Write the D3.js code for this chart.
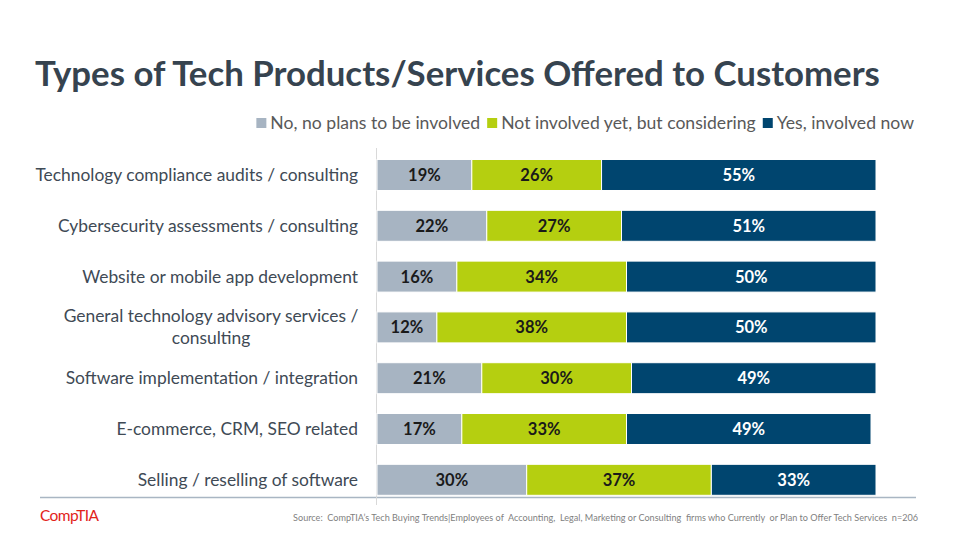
<!DOCTYPE html>
<html>
<head>
<meta charset="utf-8">
<script src="https://cdn.jsdelivr.net/npm/d3@7"></script>
<style>
  body { margin: 0; background: #fff; }
  svg { font-family: Lato, "Open Sans", sans-serif; }
</style>
</head>
<body>
<div id="chart"></div>
<script>
const categories = [
  "Technology compliance audits / consulting",
  "Cybersecurity assessments / consulting",
  "Website or mobile app development",
  "General technology advisory services / consulting",
  "Software implementation / integration",
  "E-commerce, CRM, SEO related",
  "Selling / reselling of software"
];
const seriesNames = ["No, no plans to be involved", "Not involved yet, but considering", "Yes, involved now"];
const noPlans = [19, 22, 16, 12, 21, 17, 30];
const considering = [26, 27, 34, 38, 30, 33, 37];
const involved = [55, 51, 50, 50, 49, 49, 33];
const colors = ["#a7b4c2", "#b5cf10", "#00456f"];
const labelColors = ["#1a1a1a", "#1a1a1a", "#ffffff"];

const width = 960, height = 540;
const svg = d3.select("#chart").append("svg")
  .attr("width", width).attr("height", height);

// title
svg.append("text")
  .attr("x", 35).attr("y", 86)
  .attr("font-size", 34.8).attr("font-weight", "bold")
  .attr("fill", "#36434f")
  .text("Types of Tech Products/Services Offered to Customers");

const rows = categories.map((c, i) => ({
  cat: c, values: [noPlans[i], considering[i], involved[i]]
}));
const stacked = d3.stack().keys([0, 1, 2]).value((d, k) => d.values[k])(rows);

const x = d3.scaleLinear().domain([0, 100]).range([377, 876]);
const y = d3.scaleBand().domain(categories).range([149.6, 505.2])
  .paddingInner(0.39).paddingOuter(0.195);

// bottom rule and axis line
svg.append("line").attr("x1", 40).attr("x2", 916).attr("y1", 497.5).attr("y2", 497.5)
  .attr("stroke", "#a9b6c3").attr("stroke-width", 1.5);
svg.append("line").attr("x1", 376.5).attr("x2", 376.5).attr("y1", 148).attr("y2", 505)
  .attr("stroke", "#d9d9d9").attr("stroke-width", 1);

// bars
const layers = svg.append("g").selectAll("g").data(stacked).join("g")
  .attr("fill", (d, i) => colors[i]);
layers.selectAll("rect").data(d => d).join("rect")
  .attr("x", d => x(d[0]))
  .attr("y", d => y(d.data.cat))
  .attr("width", d => x(d[1]) - x(d[0]))
  .attr("height", y.bandwidth())
  .attr("stroke", "#fff").attr("stroke-width", 1);

// value labels
stacked.forEach((layer, i) => {
  svg.append("g").selectAll("text").data(layer).join("text")
    .attr("x", d => (x(d[0]) + x(d[1])) / 2)
    .attr("y", d => y(d.data.cat) + y.bandwidth() / 2)
    .attr("dy", "0.36em")
    .attr("text-anchor", "middle")
    .attr("font-size", 16.5).attr("font-weight", "bold")
    .attr("fill", labelColors[i])
    .text(d => (d[1] - d[0]) + "%");
});

// category labels
const wrapAt = 330;
categories.forEach(c => {
  const cy = y(c) + y.bandwidth() / 2;
  const t = svg.append("text")
    .attr("font-size", 17.4).attr("fill", "#404a55");
  t.text(c);
  if (t.node().getComputedTextLength() > wrapAt) {
    const words = c.split(" ");
    const last = words.pop();
    t.text(null).attr("text-anchor", "middle");
    t.append("tspan").attr("x", 211).attr("y", cy - 5).text(words.join(" "));
    t.append("tspan").attr("x", 211).attr("y", cy + 17).text(last);
  } else {
    t.attr("x", 358).attr("y", cy).attr("dy", "0.35em").attr("text-anchor", "end");
  }
});

// legend, right aligned
const legend = svg.append("g");
let lx = 914;
const items = seriesNames.map((n, i) => ({ n, i })).reverse();
items.forEach(({ n, i }) => {
  const t = legend.append("text").attr("y", 123).attr("dy", "0.35em")
    .attr("font-size", 17.6).attr("fill", "#595959").attr("text-anchor", "end")
    .attr("x", lx).text(n);
  const w = t.node().getComputedTextLength();
  legend.append("rect").attr("x", lx - w - 14).attr("y", 118)
    .attr("width", 10).attr("height", 10).attr("fill", colors[i]);
  lx = lx - w - 21;
});

// footer
svg.append("text").attr("x", 40).attr("y", 521)
  .attr("font-size", 15.5).attr("fill", "#e2231a").attr("letter-spacing", -0.6)
  .text("CompTIA");
svg.append("text").attr("x", 918).attr("y", 521).attr("text-anchor", "end")
  .attr("font-size", 9.1).attr("fill", "#7f7f7f")
  .style("white-space", "pre")
  .text("Source:  CompTIA’s Tech Buying Trends|Employees of  Accounting,  Legal, Marketing or Consulting  firms who Currently  or Plan to Offer Tech Services  n=206");
</script>
</body>
</html>
